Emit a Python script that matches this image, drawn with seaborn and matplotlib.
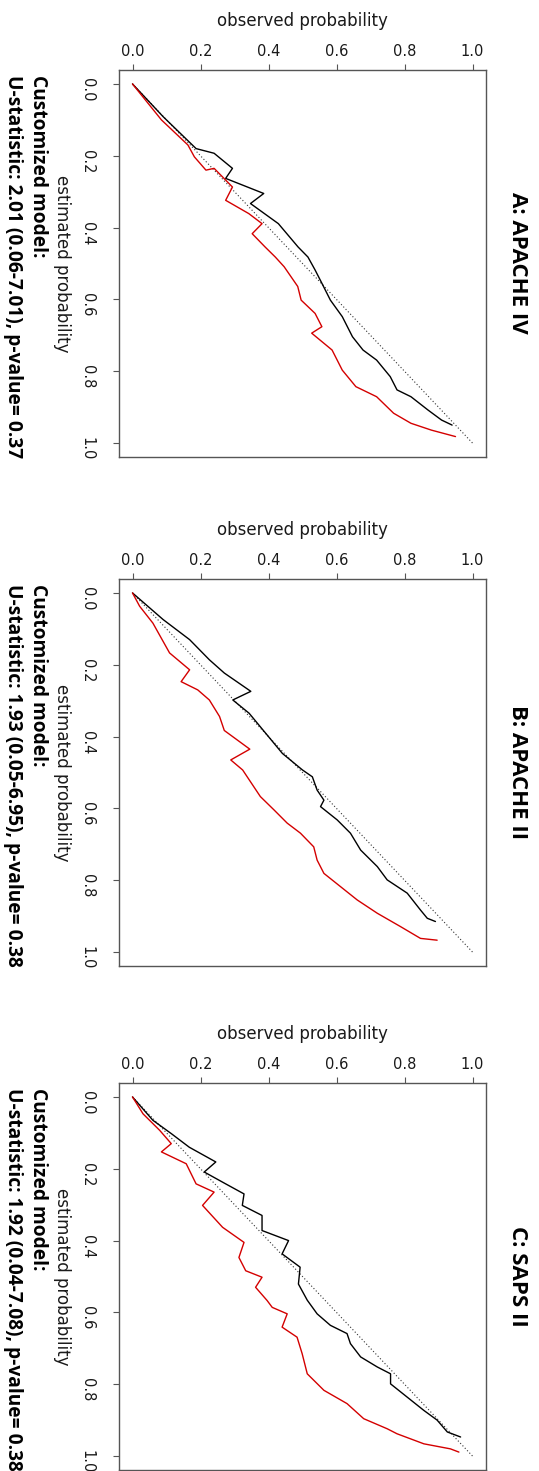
import matplotlib
matplotlib.use("Agg")
import matplotlib.pyplot as plt
import seaborn as sns

# ---------------- data ----------------
titles = ["A: APACHE IV", "B: APACHE II", "C: SAPS II"]
model_label = "Customized model:"
stat_lines = [
    "U-statistic: 2.01 (0.06-7.01), p-value= 0.37",
    "U-statistic: 1.93 (0.05-6.95), p-value= 0.38",
    "U-statistic: 1.92 (0.04-7.08), p-value= 0.38",
]
xlabel_text = "observed probability"
ylabel_text = "estimated probability"
tick_values = [0.0, 0.2, 0.4, 0.6, 0.8, 1.0]
tick_labels = ["0.0", "0.2", "0.4", "0.6", "0.8", "1.0"]
diag_vals = [0.0, 1.0]

a_black_obs = [0.0, 0.09, 0.187, 0.24, 0.294, 0.274, 0.386, 0.347, 0.429, 0.487, 0.516,
               0.537, 0.557, 0.582, 0.617, 0.647, 0.678, 0.718, 0.758, 0.778, 0.819, 0.869, 0.909, 0.94]
a_black_est = [0.0, 0.091, 0.18, 0.193, 0.235, 0.263, 0.305, 0.333, 0.389, 0.454, 0.482,
               0.518, 0.555, 0.602, 0.648, 0.704, 0.741, 0.769, 0.815, 0.852, 0.871, 0.908, 0.936, 0.95]
a_red_obs = [0.0, 0.085, 0.163, 0.182, 0.216, 0.24, 0.294, 0.274, 0.342, 0.381, 0.352, 0.39, 0.42,
             0.446, 0.486, 0.496, 0.537, 0.557, 0.527, 0.587, 0.617, 0.657, 0.718, 0.768, 0.819, 0.879, 0.95]
a_red_est = [0.0, 0.1, 0.17, 0.203, 0.24, 0.235, 0.287, 0.324, 0.361, 0.389, 0.417, 0.454, 0.482,
             0.509, 0.564, 0.602, 0.639, 0.676, 0.694, 0.741, 0.797, 0.843, 0.871, 0.917, 0.945, 0.964, 0.982]

b_black_obs = [0.0, 0.09, 0.168, 0.226, 0.27, 0.348, 0.295, 0.343, 0.392, 0.441, 0.5,
               0.529, 0.543, 0.563, 0.553, 0.602, 0.641, 0.671, 0.72, 0.749, 0.808, 0.847, 0.867, 0.891]
b_black_est = [0.0, 0.074, 0.13, 0.186, 0.223, 0.274, 0.298, 0.335, 0.391, 0.447, 0.493,
               0.512, 0.549, 0.577, 0.595, 0.632, 0.669, 0.716, 0.762, 0.799, 0.836, 0.883, 0.906, 0.915]
b_red_obs = [0.0, 0.021, 0.06, 0.109, 0.168, 0.143, 0.192, 0.226, 0.256, 0.27, 0.345, 0.289, 0.324,
             0.376, 0.416, 0.455, 0.494, 0.533, 0.543, 0.563, 0.612, 0.661, 0.72, 0.788, 0.847, 0.896]
b_red_est = [0.0, 0.037, 0.084, 0.167, 0.214, 0.247, 0.27, 0.298, 0.344, 0.383, 0.435, 0.465, 0.493,
             0.567, 0.604, 0.641, 0.669, 0.707, 0.744, 0.781, 0.818, 0.855, 0.892, 0.929, 0.962, 0.967]

c_black_obs = [0.0, 0.06, 0.114, 0.167, 0.245, 0.211, 0.274, 0.328, 0.323, 0.381, 0.381, 0.459, 0.44,
               0.493, 0.488, 0.514, 0.543, 0.582, 0.631, 0.641, 0.671, 0.72, 0.759, 0.759, 0.808,
               0.857, 0.896, 0.926, 0.965]
c_black_est = [0.0, 0.065, 0.102, 0.14, 0.181, 0.209, 0.242, 0.27, 0.302, 0.33, 0.372, 0.4, 0.437,
               0.474, 0.521, 0.566, 0.604, 0.636, 0.659, 0.687, 0.724, 0.752, 0.771, 0.799, 0.836,
               0.873, 0.9, 0.933, 0.947]
c_red_obs = [0.0, 0.031, 0.08, 0.114, 0.085, 0.158, 0.187, 0.24, 0.206, 0.265, 0.328, 0.313, 0.333,
             0.381, 0.362, 0.396, 0.411, 0.455, 0.44, 0.484, 0.499, 0.514, 0.563, 0.631, 0.68,
             0.749, 0.778, 0.857, 0.935, 0.96]
c_red_est = [0.0, 0.047, 0.093, 0.13, 0.153, 0.186, 0.242, 0.265, 0.302, 0.363, 0.405, 0.447, 0.484,
             0.502, 0.53, 0.567, 0.586, 0.604, 0.641, 0.669, 0.715, 0.771, 0.817, 0.854, 0.896,
             0.924, 0.938, 0.966, 0.98, 0.989]

panels = [
    (a_black_obs, a_black_est, a_red_obs, a_red_est),
    (b_black_obs, b_black_est, b_red_obs, b_red_est),
    (c_black_obs, c_black_est, c_red_obs, c_red_est),
]

# ---------------- style ----------------
sns.set_style("white")
plt.rcParams["font.family"] = ["DejaVu Sans"]
bold_family = ["Open Sans", "DejaVu Sans"]

FW, FH = 539, 1471
fig = plt.figure(figsize=(FW / 100, FH / 100), dpi=100)
fig.patch.set_facecolor("white")

box_left, box_right = 118.9, 486.1
box_top, box_h = 69.6, 387.8
offsets = [0, 509, 1013]
frame_col = "#555555"

def fx(px):
    return px / FW

def fy(py):
    return 1 - py / FH

for i, (bo, be, ro, re_) in enumerate(panels):
    off = offsets[i]
    ax = fig.add_axes([fx(box_left), fy(box_top + box_h + off),
                       (box_right - box_left) / FW, box_h / FH])
    ax.set_facecolor("white")
    sns.lineplot(x=diag_vals, y=diag_vals, sort=False, estimator=None, ax=ax,
                 color="#333333", lw=0.8, linestyle=(0, (1.0, 2.0)))
    sns.lineplot(x=bo, y=be, sort=False, estimator=None, ax=ax, color="black", lw=1.0)
    sns.lineplot(x=ro, y=re_, sort=False, estimator=None, ax=ax, color="#d40000", lw=1.0)
    ax.set_xlim(-0.04, 1.04)
    ax.set_ylim(1.04, -0.04)
    ax.xaxis.tick_top()
    ax.set_xticks(tick_values)
    ax.set_xticklabels(tick_labels)
    ax.set_yticks(tick_values)
    ax.set_yticklabels(tick_labels)
    ax.tick_params(axis="x", which="both", direction="out", length=4.3, width=0.8,
                   color=frame_col, labelsize=10.5, pad=3, labelcolor="#1a1a1a",
                   top=True, bottom=False, labeltop=True, labelbottom=False)
    ax.tick_params(axis="y", which="both", direction="out", length=4.3, width=0.8,
                   color=frame_col, labelsize=10.5, pad=13, labelcolor="#1a1a1a",
                   labelrotation=-90, left=True, right=False)
    for sp in ax.spines.values():
        sp.set_color(frame_col)
        sp.set_linewidth(1.0)
    ax.xaxis.set_label_position("top")
    ax.set_xlabel(xlabel_text, fontsize=12, color="#1a1a1a")
    ax.xaxis.label.set_va("center")
    ax.xaxis.set_label_coords(0.5, (box_h - (21 - box_top)) / box_h)
    ax.set_ylabel(ylabel_text, fontsize=12, color="#1a1a1a", rotation=-90)
    ax.yaxis.label.set_va("center")
    ax.yaxis.label.set_ha("center")
    ax.yaxis.set_label_coords((62 - box_left) / (box_right - box_left), 0.5)

    fig.text(fx(518), fy(263 + off), titles[i], rotation=-90, ha="center", va="center",
             fontsize=16, fontweight="bold", family=bold_family, color="black")
    fig.text(fx(38), fy(75 + off), model_label, rotation=-90, ha="center", va="top",
             fontsize=13.8, fontweight="bold", family=bold_family, color="black")
    fig.text(fx(13), fy(75 + off), stat_lines[i], rotation=-90, ha="center", va="top",
             fontsize=13.8, fontweight="bold", family=bold_family, color="black")

fig.savefig("out.png", dpi=100, facecolor="white")
